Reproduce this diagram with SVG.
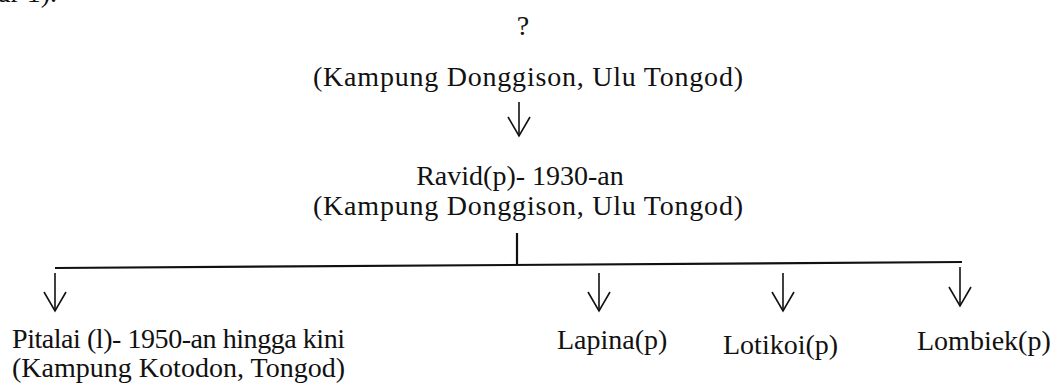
<svg xmlns="http://www.w3.org/2000/svg" width="1056" height="385" viewBox="0 0 1056 385">
  <style>
    text { font-family: "Liberation Serif", "Times New Roman", serif; font-size: 28px; fill: #111; }
    .c { text-anchor: middle; }
    .ln { stroke: #111; stroke-width: 1.6; fill: none; }
    .bar { stroke: #111; stroke-width: 2.2; fill: none; }
  </style>
  <defs>
    <marker id="vee" markerUnits="userSpaceOnUse" viewBox="-22 -13 24 26" refX="0" refY="0" markerWidth="24" markerHeight="26" orient="auto" overflow="visible">
      <path d="M-19,-11 L0,0 L-19,11" fill="none" stroke="#111" stroke-width="1.6"/>
    </marker>
  </defs>

  <g id="fragment">
    <text x="-2" y="2">ar 1).</text>
  </g>

  <g id="node-unknown">
    <text class="c" x="523" y="35">?</text>
    <text class="c" x="528" y="86" font-size="29" textLength="430" lengthAdjust="spacing">(Kampung Donggison, Ulu Tongod)</text>
  </g>

  <g id="node-ravid">
    <text class="c" x="520" y="185">Ravid(p)- 1930-an</text>
    <text class="c" x="528" y="215" font-size="29" textLength="430" lengthAdjust="spacing">(Kampung Donggison, Ulu Tongod)</text>
  </g>

  <g id="node-pitalai">
    <text x="12" y="348" textLength="333" lengthAdjust="spacing">Pitalai (l)- 1950-an hingga kini</text>
    <text x="12" y="377" textLength="333" lengthAdjust="spacing">(Kampung Kotodon, Tongod)</text>
  </g>

  <g id="node-lapina">
    <text x="557" y="349">Lapina(p)</text>
  </g>

  <g id="node-lotikoi">
    <text x="723" y="354">Lotikoi(p)</text>
  </g>

  <g id="node-lombiek">
    <text x="917" y="350">Lombiek(p)</text>
  </g>

  <g id="connectors">
    <line class="ln" x1="519" y1="102" x2="519" y2="136" marker-end="url(#vee)"/>
    <line class="bar" x1="517" y1="233" x2="517" y2="265"/>
    <line class="bar" x1="55" y1="268" x2="962" y2="262"/>
    <line class="ln" x1="55" y1="273" x2="55" y2="311" marker-end="url(#vee)"/>
    <line class="ln" x1="599" y1="273" x2="599" y2="311" marker-end="url(#vee)"/>
    <line class="ln" x1="783" y1="273" x2="783" y2="311" marker-end="url(#vee)"/>
    <line class="ln" x1="960" y1="267" x2="960" y2="306" marker-end="url(#vee)"/>
  </g>
</svg>
